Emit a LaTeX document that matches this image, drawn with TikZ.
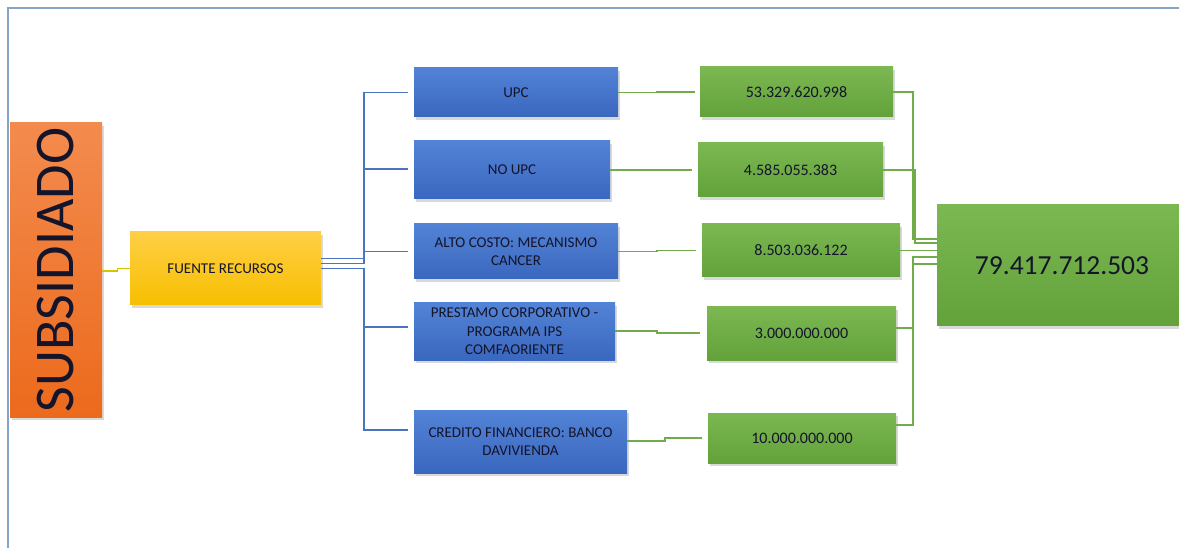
\documentclass[tikz,border=0pt]{standalone}
\usepackage{fontspec}
\setmainfont{Carlito}
\usetikzlibrary{shadows}

\definecolor{framecol}{HTML}{86A4C6}
\definecolor{orangetop}{HTML}{F38B4E}
\definecolor{orangebot}{HTML}{EC6A1C}
\definecolor{yellowtop}{HTML}{FFCF45}
\definecolor{yellowbot}{HTML}{F7BF00}
\definecolor{bluetop}{HTML}{5283D6}
\definecolor{bluebot}{HTML}{3A67BF}
\definecolor{greentop}{HTML}{7BB852}
\definecolor{greenbot}{HTML}{63A13B}
\definecolor{blueline}{HTML}{4A74C2}
\definecolor{greenline}{HTML}{72AC4A}
\definecolor{yellowline}{HTML}{D6C400}
\definecolor{textcol}{HTML}{14142A}

\begin{document}
\begin{tikzpicture}[x=1pt,y=-1pt,
    box/.style={rectangle,inner sep=0pt,align=center,text=textcol,
        drop shadow={shadow xshift=1.5pt,shadow yshift=-3pt,opacity=0.3}},
    subbox/.style={box,top color=orangetop,bottom color=orangebot},
    srcbox/.style={box,top color=yellowtop,bottom color=yellowbot,
        font=\fontsize{15}{18}\selectfont},
    itembox/.style={box,top color=bluetop,bottom color=bluebot,
        font=\fontsize{15}{18.5}\selectfont},
    valbox/.style={box,top color=greentop,bottom color=greenbot,
        font=\fontsize{16}{19}\selectfont},
    bline/.style={blueline,line width=1.6pt},
    gline/.style={greenline,line width=1.6pt},
    yline/.style={yellowline,line width=1.2pt}]

    \useasboundingbox (0,0) rectangle (1179,548);

    % marco
    \draw[framecol,line width=2pt] (1179,8) -- (8,8) -- (8,548);

    % nodos
    \node[subbox,minimum width=92pt,minimum height=294pt]  (sub)    at (56,270)
        {\rotatebox{90}{\fontsize{56}{60}\selectfont SUBSIDIADO}};
    \node[srcbox,minimum width=191pt,minimum height=73pt]  (fuente) at (225.5,268.5) {FUENTE RECURSOS};

    \node[itembox,minimum width=204pt,minimum height=49pt] (upc)    at (516,92.5)  {UPC};
    \node[itembox,minimum width=196pt,minimum height=58pt] (noupc)  at (512,170)   {NO UPC};
    \node[itembox,minimum width=204pt,minimum height=55pt] (alto)   at (516,251.5) {ALTO COSTO: MECANISMO\\CANCER};
    \node[itembox,minimum width=201pt,minimum height=57pt] (prest)  at (514.5,331.5) {PRESTAMO CORPORATIVO -\\PROGRAMA IPS\\COMFAORIENTE};
    \node[itembox,minimum width=213pt,minimum height=63pt] (cred)   at (520.5,441.5) {CREDITO FINANCIERO: BANCO\\DAVIVIENDA};

    \node[valbox,minimum width=193pt,minimum height=50pt]  (vupc)   at (796.5,92)  {53.329.620.998};
    \node[valbox,minimum width=185pt,minimum height=54pt]  (vnoupc) at (790.5,170) {4.585.055.383};
    \node[valbox,minimum width=198pt,minimum height=53pt]  (valto)  at (801,250.5) {8.503.036.122};
    \node[valbox,minimum width=189pt,minimum height=53pt]  (vprest) at (801.5,333.5) {3.000.000.000};
    \node[valbox,minimum width=188pt,minimum height=50pt]  (vcred)  at (802,438)   {10.000.000.000};

    \node[valbox,minimum width=250pt,minimum height=121pt,
        font=\fontsize{27.5}{30}\selectfont]               (total)  at (1062,265.5) {79.417.712.503};

    % conectores
    \draw[yline] ([yshift=-1pt]sub.east) -- ++(15,0) |- (fuente.west);

    \draw[bline] ([yshift=10pt]fuente.east) -- ++(43,0) |- ([xshift=-6pt]upc.west);
    \draw[bline] ([yshift=10pt]fuente.east) -- ++(43,0) |- ([xshift=-6pt,yshift=1pt]noupc.west);
    \draw[bline] ([yshift=5pt]fuente.east)  -- ++(43,0) |- ([xshift=-6pt]alto.west);
    \draw[bline] (fuente.east) -- ++(43,0) |- ([xshift=-6pt,yshift=4.5pt]prest.west);
    \draw[bline] (fuente.east) -- ++(43,0) |- ([xshift=-6pt,yshift=11.5pt]cred.west);

    \draw[gline] (upc.east)   -- ++(39,0) |- ([xshift=-5pt]vupc.west);
    \draw[gline] (noupc.east) -- ++(41,0) |- ([xshift=-6pt]vnoupc.west);
    \draw[gline] (alto.east)  -- ++(39,0) |- ([xshift=-6pt]valto.west);
    \draw[gline] ([yshift=0.5pt]prest.east) -- ++(42,0) |- ([xshift=-7pt,yshift=0.5pt]vprest.west);
    \draw[gline] ([yshift=0.5pt]cred.east)  -- ++(38,0) |- ([xshift=-6pt]vcred.west);

    \draw[gline] (vupc.east)   -- ++(20,0) |- ([yshift=26.5pt]total.west);
    \draw[gline] (vnoupc.east) -- ++(32,0) |- ([yshift=22.5pt]total.west);
    \draw[gline] (valto.east)  -- (valto.east -| total.west);
    \draw[gline] ([yshift=5.5pt]vprest.east) -- ++(17,0) |- ([yshift=8.5pt]total.west);
    \draw[gline] ([yshift=13pt]vcred.east)   -- ++(17,0) |- ([yshift=1.5pt]total.west);
\end{tikzpicture}
\end{document}
